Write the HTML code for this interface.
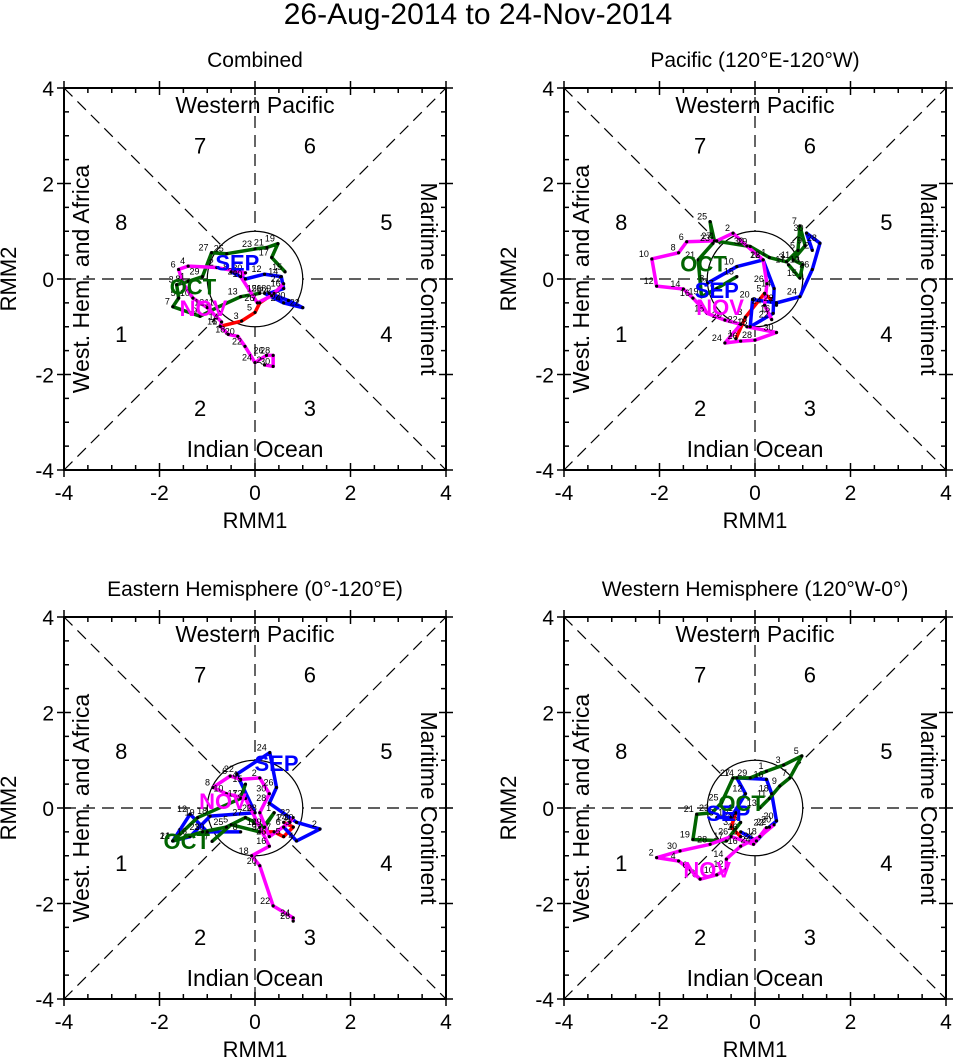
<!DOCTYPE html>
<html><head><meta charset="utf-8"><style>
body{margin:0;background:#fff}
svg{display:block;font-family:"Liberation Sans",sans-serif}
</style></head><body>
<svg id="root" width="956" height="1060" viewBox="0 0 956 1060" xmlns="http://www.w3.org/2000/svg">
<text x="478" y="24" font-size="30" text-anchor="middle">26-Aug-2014 to 24-Nov-2014</text>
</svg>
<script>
const panelTitles = ["Combined", "Pacific (120°E-120°W)", "Eastern Hemisphere (0°-120°E)", "Western Hemisphere (120°W-0°)"];
const tickValues = [-4, -2, 0, 2, 4];
const tickLabels = ["-4", "-2", "0", "2", "4"];
const phaseNumbers = ["1","2","3","4","5","6","7","8"];
const monthNames = ["SEP","OCT","NOV"];

const sepP1 = [[-0.5,0.15],[-0.2,0.0],[0.2,0.1],[0.55,0.05],[0.6,-0.2],[0.3,-0.3],[0.7,-0.45],[1.0,-0.6],[0.6,-0.5],[0.2,-0.3]];
const octP1 = [[0.63,0.15],[0.35,0.45],[0.48,0.74],[0.25,0.66],[0,0.63],[-0.59,0.53],[-0.91,0.55],[-1.1,0.05],[-1.4,-0.05],[-1.64,-0.12],[-1.6,-0.4],[-1.72,-0.58],[-1.15,-0.78],[-0.8,-0.6],[-0.3,-0.37],[0.1,-0.3]];
const novP1 = [[0.6,-0.1],[0.35,-0.35],[0.05,-0.5],[-0.3,0.05],[-0.2,0.13],[-0.8,0.24],[-1.4,0.27],[-1.6,0.2],[-1.5,-0.1],[-1.3,-0.4],[-1.0,-0.6],[-0.7,-0.9],[-0.73,-0.99],[-0.56,-1.16],[-0.36,-1.2],[-0.21,-1.41],[0,-1.75],[0.24,-1.6],[0.38,-1.6],[0.38,-1.83],[0.2,-1.8]];
const augP1 = [[-0.73,-0.99],[-0.28,-0.88],[0,-0.7],[0.1,-0.5],[0.4,-0.3]];

const sepP2 = [[-1.0,-0.09],[-0.38,0.26],[0.17,0.4],[0.4,-0.2],[0.38,-0.72],[-0.1,-1.0],[-0.05,-0.43],[0.45,-0.5],[0.94,-0.37],[1.2,0.2],[1.36,0.75],[1.08,0.96],[1.2,0.6]];
const octP2 = [[-0.38,0.05],[-0.8,-0.2],[-1.12,-0.37],[-1.19,0.4],[-0.88,0.75],[-0.94,1.2],[-0.85,0.8],[-0.1,0.68],[0.3,0.45],[0.66,0.36],[0.9,0.6],[0.94,1.11],[1.05,0.7],[0.8,0.4],[1.0,0.3],[0.94,0.02],[0.7,0.3]];
const novP2 = [[0.35,-0.85],[0.2,-0.55],[0.25,-0.1],[0.17,0.4],[-0.17,0.69],[-0.46,0.96],[-0.8,0.8],[-1.43,0.78],[-1.6,0.55],[-2.16,0.42],[-2.06,-0.15],[-1.5,-0.21],[-1.3,-0.4],[-1.0,-0.72],[-0.63,-0.86],[-0.3,-0.95],[-0.63,-1.34],[-0.3,-1.3],[0,-1.28],[0.45,-1.12],[-0.17,-1.0]];
const augP2 = [[-0.4,-1.25],[-0.2,-0.8],[0.2,-0.3],[0.45,-0.55]];

const sepP3 = [[-0.3,-0.5],[-1.0,-0.5],[-1.36,-0.13],[-1.72,-0.69],[-1.36,-0.6],[-0.94,-0.17],[0,-0.1],[-0.38,0.71],[0.31,1.16],[0.45,0.43],[0.3,0.1],[0.87,-0.3],[1.36,-0.44],[0.87,-0.69],[0.6,-0.4]];
const octP3 = [[-0.2,0.5],[-0.3,0.2],[-1.2,-0.2],[-1.72,-0.69],[-1.1,-0.5],[-0.6,-0.4],[-0.2,-0.2],[0.2,-0.4],[0.4,-0.1],[0.1,-0.5],[-0.5,-0.35],[-0.9,-0.7]];
const novP3 = [[0.8,-0.2],[0.73,-0.3],[0.3,-0.6],[0.1,-0.1],[0.3,0.3],[0.1,0.63],[-0.3,0.6],[-0.52,0.67],[-0.88,0.43],[-0.6,0.3],[-0.2,0.2],[0.1,-0.4],[0.3,-0.8],[-0.07,-1.0],[0.1,-1.21],[0.38,-2.05],[0.8,-2.3],[0.8,-2.37]];
const augP3 = [[0.6,-0.3],[0.8,-0.4],[0.6,-0.6],[0.4,-0.5],[0.1,-0.5]];

const sepP4 = [[-0.8,-0.2],[-0.5,-0.2],[-0.2,0.3],[-0.38,0.63],[0.24,0.6],[0.35,0.3],[0.45,-0.27],[0.3,-0.4],[0.03,-0.69],[-0.3,-0.5]];
const octP4 = [[-0.3,-0.3],[-0.6,-0.69],[-1.3,-0.66],[-1.22,-0.13],[-0.9,-0.1],[-0.7,0.11],[-0.46,0.63],[-0.1,0.63],[0.24,0.77],[0.6,0.9],[0.98,1.09],[0.73,0.63],[0.52,0.46],[0.3,0.2],[0.1,0.0]];
const novP4 = [[0.24,-0.41],[-0.03,-0.76],[-0.5,-0.6],[-0.94,-0.76],[-1.57,-0.9],[-2.06,-1.04],[-1.6,-1.11],[-1.35,-1.3],[-1.15,-1.49],[-0.8,-1.4],[-0.6,-1.28],[-0.6,-1.07],[-0.3,-0.8],[0.1,-0.6],[0.4,-0.35]];
const augP4 = [[-0.4,-0.1],[-0.5,-0.4],[-0.3,-0.6]];

const monthLabelPos = [
  [[-0.37,0.3],[-1.3,-0.2],[-1.08,-0.65]],
  [[-0.8,-0.28],[-1.08,0.28],[-0.73,-0.63]],
  [[0.45,0.9],[-1.43,-0.74],[-0.67,0.1]],
  [[-0.56,-0.15],[-0.28,0.06],[-1.0,-1.33]]
];

const seriesByPanel = [
  [augP1, sepP1, octP1, novP1],
  [augP2, sepP2, octP2, novP2],
  [augP3, sepP3, octP3, novP3],
  [augP4, sepP4, octP4, novP4]
];
const seriesColors = ["#ff0000","#0000ff","#006400","#ff00ff"];
const monthColors = ["#0000ff","#006400","#ff00ff"];

const NS = "http://www.w3.org/2000/svg";
const root = document.getElementById("root");
function mk(tag, attrs, parent){const e=document.createElementNS(NS,tag);for(const k in attrs)e.setAttribute(k,attrs[k]);(parent||root).appendChild(e);return e;}

const origins = [[64,88],[564,88],[64,617],[564,617]];
const size = 382;

origins.forEach((o, pi) => {
  const g = mk("g", {});
  
  
  const sx = v => o[0] + (v + 4) / 8 * size;
  const sy = v => o[1] + (4 - v) / 8 * size;

  const t = mk("text", {x: sx(0), y: o[1]-21, "font-size": 21, "text-anchor": "middle"}, g);
  t.textContent = panelTitles[pi];
  
  

  const dash = {stroke: "#000", "stroke-width": 1.2, "stroke-dasharray": "12,7", fill: "none"};
  [[-4,-4,4,4],[-4,4,4,-4],[-4,0,4,0],[0,-4,0,4]].forEach(l => {
    const ln = mk("line", Object.assign({x1: sx(l[0]), y1: sy(l[1]), x2: sx(l[2]), y2: sy(l[3])}, dash), g);
    
    
  });
  const c = mk("circle", {cx: sx(0), cy: sy(0), r: size/8, fill: "#fff", stroke: "#000", "stroke-width": 1.2}, g);
  
  

  const rl = (txt, x, y, rot, name) => {
    const e = mk("text", {x: sx(x), y: sy(y), "font-size": 23, "text-anchor": "middle", "dominant-baseline": "middle"}, g);
    if (rot) e.setAttribute("transform", `rotate(${rot} ${sx(x)} ${sy(y)})`);
    e.textContent = txt;
    
    
  };
  rl("Western Pacific", 0, 3.6, 0, "region-western-pacific");
  rl("Indian Ocean", 0, -3.6, 0, "region-indian-ocean");
  rl("West. Hem. and Africa", -3.6, 0, -90, "region-west-hem-africa");
  rl("Maritime Continent", 3.6, 0, 90, "region-maritime-continent");
  const phasePos = [[-2.8,-1.2],[-1.15,-2.75],[1.15,-2.75],[2.75,-1.2],[2.75,1.15],[1.15,2.75],[-1.15,2.75],[-2.8,1.15]];
  phaseNumbers.forEach((n, i) => {
    const e = mk("text", {x: sx(phasePos[i][0]), y: sy(phasePos[i][1]), "font-size": 22, "text-anchor": "middle", "dominant-baseline": "middle"}, g);
    e.textContent = n;
    
    
  });

  seriesByPanel[pi].forEach((s, si) => {
    const pts = s.map(p => sx(p[0]) + "," + sy(p[1])).join(" ");
    const pl = mk("polyline", {points: pts, fill: "none", stroke: seriesColors[si], "stroke-width": 3.5, "stroke-linejoin": "round"}, g);
    
    
  });
  seriesByPanel[pi].forEach((s, si) => {
    s.forEach((p, di) => {
      const d = mk("circle", {cx: sx(p[0]), cy: sy(p[1]), r: 1.6, fill: "#000"}, g);
      
      
      const lb = mk("text", {x: sx(p[0]) - 3, y: sy(p[1]) - 2, "font-size": 9, "text-anchor": "end"}, g);
      lb.textContent = String(((di * 2 + si * 7) % 30) + 1);
      
      
    });
  });
  monthNames.forEach((m, mi) => {
    const p = monthLabelPos[pi][mi];
    const e = mk("text", {x: sx(p[0]), y: sy(p[1]), "font-size": 22, "font-weight": "bold", fill: monthColors[mi], "text-anchor": "middle", "dominant-baseline": "middle"}, g);
    e.textContent = m;
    
    
  });

  const fr = mk("rect", {x: o[0], y: o[1], width: size, height: size, fill: "none", stroke: "#000", "stroke-width": 2}, g);
  
  

  for (let v = -4; v <= 4.001; v += 0.5) {
    const major = Math.abs(v - Math.round(v/2)*2) < 1e-6;
    const len = major ? 7 : 5;
    const tk = {stroke: "#000", "stroke-width": 1.5};
    mk("line", Object.assign({x1: sx(v), x2: sx(v), y1: o[1]+size - len, y2: o[1]+size + (major?7:0)}, tk), g);
    mk("line", Object.assign({x1: sx(v), x2: sx(v), y1: o[1] + len, y2: o[1] - (major?7:0)}, tk), g);
    mk("line", Object.assign({y1: sy(v), y2: sy(v), x1: o[0] + len, x2: o[0] - (major?7:0)}, tk), g);
    mk("line", Object.assign({y1: sy(v), y2: sy(v), x1: o[0]+size - len, x2: o[0]+size + (major?7:0)}, tk), g);
  }
  tickValues.forEach((v, i) => {
    const xt = mk("text", {x: sx(v), y: o[1]+size+30, "font-size": 21, "text-anchor": "middle"}, g);
    xt.textContent = tickLabels[i];
    
    
    const yt = mk("text", {x: o[0]-10, y: sy(v)+8, "font-size": 21, "text-anchor": "end"}, g);
    yt.textContent = tickLabels[i];
    
    
  });
  const xa = mk("text", {x: sx(0), y: o[1]+size+58, "font-size": 22, "text-anchor": "middle"}, g);
  xa.textContent = "RMM1";
  
  
  const yx = o[0]-48, yy = sy(0);
  const ya = mk("text", {x: yx, y: yy, "font-size": 22, "text-anchor": "middle", transform: `rotate(-90 ${yx} ${yy})`}, g);
  ya.textContent = "RMM2";
  
  
});
</script>
</body></html>
